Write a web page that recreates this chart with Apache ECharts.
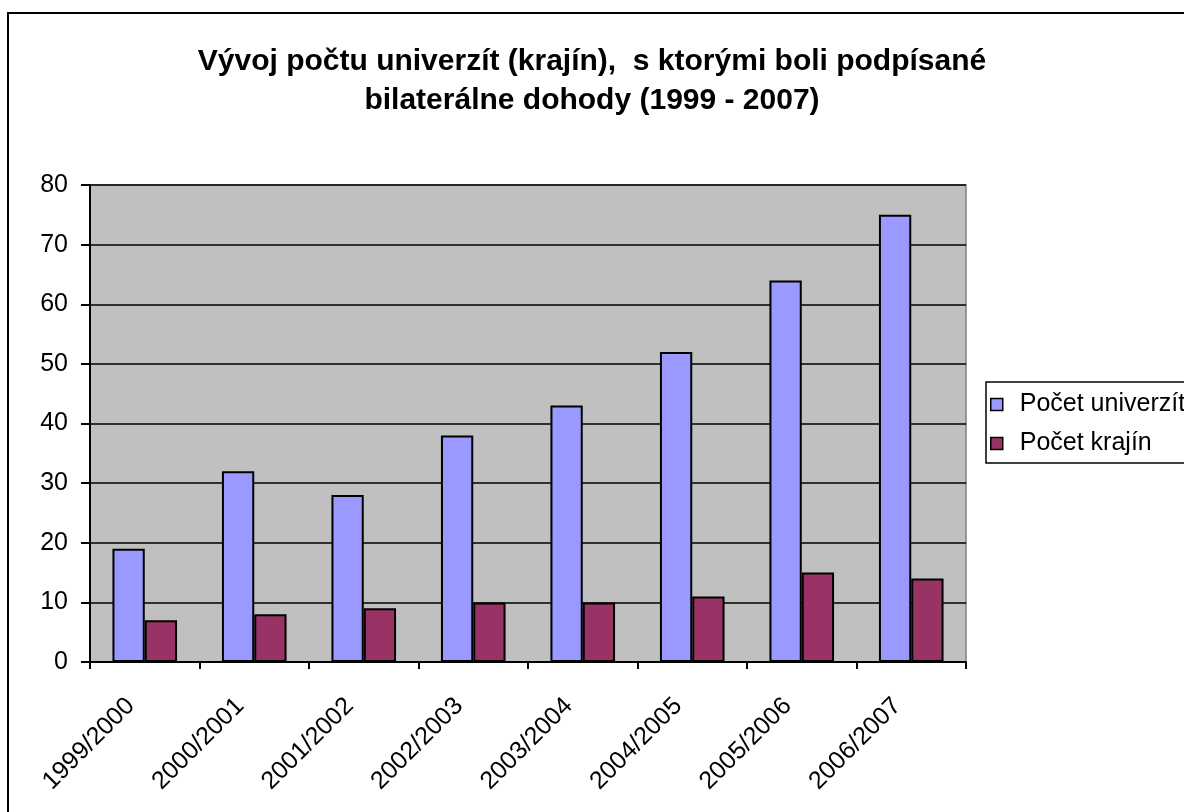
<!DOCTYPE html>
<html lang="sk">
  <head>
    <meta charset="UTF-8" />
    <title>Vývoj počtu univerzít</title>
    <script src="https://cdn.jsdelivr.net/npm/echarts@6/dist/echarts.min.js"></script>
    <style>
      html, body { margin: 0; padding: 0; background: #fff; }
      #chart { width: 1184px; height: 812px; }
    </style>
  </head>
  <body>
    <div id="chart"></div>
    <script>
      // data
      const years = ["1999/2000", "2000/2001", "2001/2002", "2002/2003",
                     "2003/2004", "2004/2005", "2005/2006", "2006/2007"];
      const univerzity = [19, 32, 28, 38, 43, 52, 64, 75];
      const krajiny = [7, 8, 9, 10, 10, 11, 15, 14];
      const yTicks = [0, 10, 20, 30, 40, 50, 60, 70, 80];

      const font = "Liberation Sans, Arial, sans-serif";
      const chart = echarts.init(document.getElementById("chart"));

      chart.setOption({
        animation: false,
        backgroundColor: "#fff",
        textStyle: { fontFamily: font },
        title: {
          text: "Vývoj počtu univerzít (krajín),  s ktorými boli podpísané\nbilaterálne dohody (1999 - 2007)",
          left: "center",
          top: 37,
          textStyle: { fontSize: 30, fontWeight: "bold", color: "#000", lineHeight: 39, fontFamily: font, align: "center" }
        },
        graphic: [{
          type: "rect",
          shape: { x: 8, y: 13, width: 1200, height: 820 },
          style: { fill: "none", stroke: "#000", lineWidth: 2 }
        }],
        legend: {
          orient: "vertical",
          left: 986,
          top: 382,
          padding: [10, 40, 7, 4],
          itemGap: 14,
          itemWidth: 12,
          itemHeight: 12,
          borderColor: "#000",
          borderWidth: 1.5,
          icon: "rect",
          itemStyle: { borderColor: "#000", borderWidth: 1.5 },
          textStyle: { fontSize: 25, color: "#000", fontFamily: font, padding: [0, 0, 0, 12] }
        },
        grid: {
          left: 90, top: 185, width: 876, height: 477,
          show: true,
          backgroundColor: "#C0C0C0",
          borderColor: "#808080",
          borderWidth: 1.5
        },
        xAxis: {
          type: "category",
          data: years,
          boundaryGap: true,
          axisLine: { lineStyle: { color: "#000", width: 2 } },
          axisTick: { show: true, length: 7, lineStyle: { color: "#000", width: 2 } },
          axisLabel: { rotate: 45, fontSize: 25, color: "#000", margin: 26, padding: [0, 20, 0, 0], fontFamily: font }
        },
        yAxis: {
          type: "value",
          min: yTicks[0],
          max: yTicks[yTicks.length - 1],
          interval: 10,
          axisLine: { show: true, lineStyle: { color: "#000", width: 2 } },
          axisTick: { show: true, length: 9, lineStyle: { color: "#000", width: 2 } },
          axisLabel: { fontSize: 25, color: "#000", margin: 22, fontFamily: font },
          splitLine: { show: true, lineStyle: { color: "#000", width: 1.5 } }
        },
        series: [
          {
            name: "Počet univerzít",
            type: "bar",
            data: univerzity,
            barGap: "0%",
            barCategoryGap: "41%",
            itemStyle: { color: "#9999FF", borderColor: "#000", borderWidth: 2 }
          },
          {
            name: "Počet krajín",
            type: "bar",
            data: krajiny,
            itemStyle: { color: "#993366", borderColor: "#000", borderWidth: 2 }
          }
        ]
      });
    </script>
  </body>
</html>
